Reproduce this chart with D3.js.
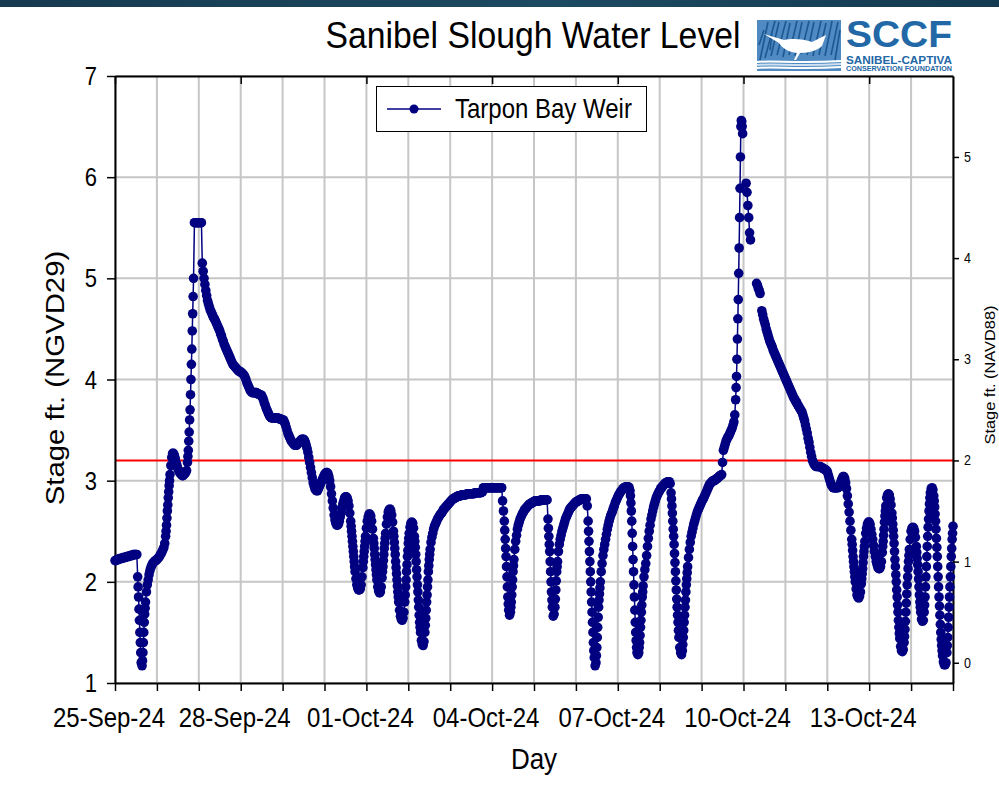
<!DOCTYPE html>
<html><head><meta charset="utf-8">
<script src="https://cdn.jsdelivr.net/npm/d3@7"></script>
<style>body{margin:0;background:#fff}svg{display:block}text{font-family:"Liberation Sans",Arial,sans-serif}</style>
</head><body>
<svg id="chart" width="999" height="785"></svg>
<script>
// ---------------- DATA ----------------
const title = "Sanibel Slough Water Level";
const seriesName = "Tarpon Bay Weir";
const yLabelLeft = "Stage ft. (NGVD29)";
const yLabelRight = "Stage ft. (NAVD88)";
const xLabel = "Day";
const startDay = "2024-09-25";
const endDay = "2024-10-15";
const xLabelDates = ["2024-09-25","2024-09-28","2024-10-01","2024-10-04","2024-10-07","2024-10-10","2024-10-13"];
const yTicksLeft = [1,2,3,4,5,6,7];
const yTicksRight = [0,1,2,3,4,5];
const datumOffset = 1.2;      // NGVD29 - NAVD88
const threshold = 3.2;        // red reference line (NGVD29)

// half-hourly stage readings (ft NGVD29) from 25-Sep-24 00:00; null = missing reading
const stageReadings = [
 2.21,2.21,2.22,2.22,2.22,2.23,2.23,2.23,2.23,2.24,2.24,2.24,2.24,2.25,2.25,2.25,2.25,2.26,2.26,2.26,2.26,2.27,2.27,2.27,2.27,2.27,2.05,1.85,1.62,1.4,1.2,1.17,1.3,1.5,1.68,1.8,1.9,1.97,2.02,2.07,2.11,2.14,2.16,2.18,2.19,2.2,2.21,2.21,
 2.22,2.23,2.24,2.25,2.27,2.28,2.3,2.32,2.34,2.38,2.45,2.56,2.7,2.83,2.95,3.06,3.15,3.23,3.27,3.27,3.25,3.22,3.18,3.15,3.12,3.1,3.08,3.07,3.06,3.05,3.05,3.06,3.07,3.08,3.1,3.18,3.3,3.48,3.7,4.0,4.3,4.65,5.0,5.55,5.55,5.55,5.55,5.55,
 5.55,5.55,5.55,5.55,5.15,5.07,5.0,4.94,4.88,4.83,4.78,4.75,4.72,4.69,4.67,4.65,4.63,4.61,4.6,4.58,4.56,4.54,4.52,4.5,4.48,4.45,4.43,4.4,4.38,4.35,4.33,4.31,4.29,4.27,4.25,4.23,4.21,4.19,4.17,4.15,4.14,4.13,4.12,4.11,4.1,4.09,4.08,4.08,
 4.07,4.07,4.06,4.05,4.04,4.02,4.0,3.97,3.95,3.93,3.91,3.89,3.88,3.87,3.87,3.87,3.87,3.87,3.87,3.86,3.86,3.85,3.85,3.85,3.84,3.82,3.8,3.77,3.75,3.72,3.7,3.68,3.66,3.64,3.63,3.62,3.62,3.62,3.62,3.62,3.62,3.62,3.62,3.62,3.61,3.61,3.61,3.6,3.6,
 3.6,3.58,3.56,3.53,3.5,3.47,3.45,3.43,3.41,3.39,3.38,3.37,3.36,3.35,3.35,3.35,3.36,3.37,3.38,3.39,3.4,3.41,3.41,3.41,3.4,3.38,3.35,3.32,3.28,3.23,3.18,3.13,3.08,3.03,2.98,2.95,2.92,2.91,2.9,2.9,2.92,2.94,2.96,2.98,3.0,3.02,3.04,3.06,
 3.07,3.08,3.08,3.07,3.04,3.0,2.94,2.87,2.8,2.73,2.66,2.61,2.58,2.56,2.56,2.57,2.6,2.64,2.68,2.73,2.77,2.8,2.83,2.84,2.84,2.83,2.8,2.75,2.68,2.6,2.5,2.4,2.3,2.2,2.1,2.03,1.97,1.94,1.92,1.92,1.93,1.97,2.05,2.14,2.25,2.35,2.45,2.53,
 2.6,2.64,2.67,2.67,2.65,2.6,2.52,2.43,2.33,2.22,2.12,2.02,1.95,1.91,1.89,1.9,1.95,2.04,2.15,2.27,2.38,2.48,2.57,2.64,2.69,2.71,2.72,2.7,2.66,2.59,2.5,2.39,2.27,2.14,2.02,1.9,1.8,1.72,1.66,1.63,1.62,1.64,1.7,1.8,1.95,2.1,2.25,2.38,
 2.48,2.54,2.58,2.59,2.58,2.53,2.45,2.34,2.2,2.05,1.9,1.75,1.6,1.5,1.42,1.38,1.37,1.41,1.5,1.64,1.8,1.95,2.1,2.22,2.32,2.39,2.44,2.48,2.52,2.55,2.57,2.59,2.61,2.63,2.64,2.66,2.67,2.68,2.69,2.71,2.72,2.73,2.74,2.75,2.76,2.77,2.78,2.79,
 2.8,2.81,2.82,2.82,2.83,2.83,2.84,2.84,2.85,2.85,2.85,2.85,2.86,2.86,2.86,2.86,2.86,2.86,2.87,2.87,2.87,2.87,2.87,2.87,2.87,2.87,2.87,2.88,2.88,2.88,2.88,2.88,2.88,2.88,2.88,2.89,2.89,2.93,2.93,2.93,2.93,2.93,2.93,2.93,2.93,2.93,2.93,2.93,2.93,
 2.93,2.93,2.93,2.93,2.93,2.93,2.93,2.93,2.93,2.93,2.8,2.7,2.6,2.42,2.25,2.05,1.85,1.72,1.67,1.7,1.8,1.95,2.1,2.22,2.32,2.4,2.46,2.52,2.56,2.59,2.62,2.64,2.66,2.68,2.69,2.71,2.72,2.73,2.74,2.75,2.76,2.77,2.77,2.78,2.78,2.79,2.79,2.8,
 2.8,2.8,2.8,2.8,2.8,2.8,2.81,2.81,2.81,2.81,2.81,2.81,2.81,2.81,2.62,2.45,2.3,2.1,1.9,1.75,1.66,1.68,1.75,1.92,2.1,2.2,2.3,2.37,2.42,2.46,2.5,2.53,2.56,2.59,2.62,2.64,2.66,2.68,2.7,2.72,2.73,2.74,2.75,2.76,2.77,2.78,2.79,2.79,
 2.8,2.8,2.81,2.81,2.82,2.82,2.82,2.82,2.82,2.82,2.82,2.75,2.6,2.4,2.2,2.0,1.8,1.6,1.4,1.25,1.17,1.2,1.35,1.55,1.75,1.88,2.0,2.1,2.18,2.26,2.32,2.37,2.42,2.47,2.52,2.56,2.6,2.63,2.66,2.68,2.7,2.73,2.75,2.78,2.8,2.82,2.84,2.86,
 2.87,2.89,2.9,2.91,2.92,2.93,2.93,2.94,2.94,2.94,2.94,2.93,2.9,2.78,2.6,2.35,2.1,1.85,1.6,1.42,1.3,1.28,1.3,1.4,1.55,1.7,1.85,1.96,2.05,2.12,2.18,2.26,2.35,2.43,2.5,2.56,2.62,2.66,2.7,2.74,2.77,2.8,2.83,2.85,2.87,2.89,2.9,2.92,
 2.93,2.94,2.95,2.96,2.97,2.98,2.98,2.99,2.99,2.99,2.97,2.88,2.75,2.6,2.45,2.28,2.1,1.92,1.75,1.6,1.45,1.35,1.3,1.28,1.32,1.45,1.6,1.75,1.9,2.03,2.15,2.24,2.32,2.39,2.45,2.49,2.53,2.57,2.6,2.63,2.66,2.69,2.71,2.73,2.75,2.77,2.79,2.81,
 2.82,2.84,2.86,2.88,2.9,2.92,2.94,2.96,2.97,2.98,2.99,3.0,3.0,3.0,3.01,3.02,3.02,3.03,3.04,3.05,3.05,3.06,3.18,3.3,3.33,3.36,3.39,3.41,3.43,3.44,3.46,3.48,3.5,3.52,3.55,3.58,3.65,3.8,4.03,4.4,4.79,5.3,5.89,6.5,6.55,6.43,null,null,null,
 5.94,5.85,5.72,5.6,5.45,5.38,null,null,null,null,null,null,4.95,4.93,4.9,4.88,4.85,null,4.68,4.64,4.6,4.57,4.54,4.5,4.47,4.44,4.41,4.38,4.36,4.34,4.32,4.29,4.27,4.25,4.23,4.21,4.19,4.17,4.15,4.13,4.11,4.09,4.07,4.05,4.03,4.01,3.99,3.97,
 3.95,3.93,3.91,3.89,3.87,3.85,3.83,3.81,3.8,3.78,3.77,3.75,3.74,3.72,3.71,3.69,3.68,3.65,3.62,3.59,3.55,3.51,3.47,3.42,3.38,3.33,3.28,3.24,3.2,3.18,3.16,3.15,3.14,3.14,3.14,3.14,3.14,3.14,3.13,3.13,3.12,3.12,3.11,3.11,3.1,3.09,3.06,3.03,3.0,
 2.97,2.95,2.94,2.93,2.93,2.93,2.93,2.93,2.93,2.94,2.95,2.97,3.0,3.02,3.04,3.04,3.02,2.98,2.92,2.85,2.77,2.69,2.6,2.51,2.42,2.31,2.2,2.1,2.0,1.93,1.87,1.85,1.84,1.86,1.9,1.98,2.08,2.19,2.3,2.4,2.48,2.53,2.57,2.59,2.59,2.57,2.52,2.47,
 2.42,2.36,2.3,2.25,2.2,2.17,2.14,2.13,2.13,2.15,2.2,2.29,2.4,2.52,2.65,2.75,2.83,2.86,2.87,2.86,2.82,2.76,2.68,2.57,2.45,2.3,2.15,2.0,1.85,1.7,1.55,1.44,1.36,1.32,1.31,1.33,1.4,1.53,1.7,1.88,2.05,2.2,2.32,2.42,2.5,2.53,2.54,2.53,
 2.5,2.44,2.35,2.23,2.1,1.95,1.8,1.7,1.63,1.61,1.62,1.7,1.85,2.05,2.25,2.45,2.62,2.77,2.88,2.92,2.93,2.91,2.85,2.74,2.6,2.43,2.25,2.05,1.85,1.67,1.5,1.37,1.27,1.21,1.18,1.18,1.2,1.3,1.45,1.65,1.85,2.05,2.25,2.42,2.55
];
// extra quarter-hour readings where the stage changes quickly: [hours since start, stage]
const quarterHourReadings = [
 [13.25,1.95],[13.75,1.73],[14.25,1.5],[14.75,1.3],[15.75,1.22],[16.25,1.4],[16.75,1.6],[17.25,1.74],
 [29.25,2.5],[29.75,2.63],[30.25,2.76],[30.75,2.89],[31.25,3.0],[41.75,3.24],[42.25,3.39],
 [42.75,3.6],[43.25,3.85],[43.75,4.15],[44.25,4.48],[44.75,4.82],
 [135.25,2.55],[135.75,2.45],[136.25,2.35],[136.75,2.25],[137.25,2.15],[142.25,2.2],[142.75,2.3],[143.25,2.4],
 [148.25,2.38],[148.75,2.27],[149.25,2.17],[149.75,2.07],[153.25,2.1],[153.75,2.21],[154.25,2.33],[154.75,2.43],
 [159.75,2.45],[160.25,2.33],[160.75,2.2],[161.25,2.08],[161.75,1.96],[162.25,1.85],
 [166.25,1.87],[166.75,2.02],[167.25,2.17],[167.75,2.31],[168.25,2.43],
 [171.75,2.4],[172.25,2.27],[172.75,2.12],[173.25,1.97],[173.75,1.82],[174.25,1.67],[174.75,1.55],
 [177.75,1.57],[178.25,1.72],[178.75,1.87],[179.25,2.02],[179.75,2.16],[180.25,2.27],
 [223.25,2.51],[223.75,2.33],[224.25,2.15],[224.75,1.95],[225.25,1.78],[226.75,1.75],[227.25,1.87],[227.75,2.02],[228.25,2.16],
 [248.25,2.53],[248.75,2.37],[249.25,2.2],[249.75,2.0],[250.25,1.82],[252.25,1.83],[252.75,2.01],[253.25,2.15],
 [271.25,2.5],[271.75,2.3],[272.25,2.1],[272.75,1.9],[273.25,1.7],[273.75,1.5],[274.25,1.32],
 [275.75,1.27],[276.25,1.45],[276.75,1.65],[277.25,1.82],[277.75,1.94],
 [295.25,2.85],[295.75,2.7],[296.25,2.48],[296.75,2.22],[297.25,1.97],[297.75,1.72],[298.25,1.5],[298.75,1.35],
 [300.25,1.35],[300.75,1.47],[301.25,1.62],[301.75,1.77],[302.25,1.9],
 [318.75,2.82],[319.25,2.68],[319.75,2.52],[320.25,2.37],[320.75,2.19],[321.25,2.01],[321.75,1.83],[322.25,1.67],[322.75,1.52],
 [325.25,1.38],[325.75,1.52],[326.25,1.67],[326.75,1.82],[327.25,1.97],[327.75,2.09],
 [355.75,3.92],[356.25,4.2],[356.75,4.6],[357.25,5.05],[357.75,5.6],[358.25,6.2],[358.75,6.56],[359.25,6.5],
 [422.25,2.37],[422.75,2.25],[423.25,2.15],[423.75,2.05],[427.75,2.03],[428.25,2.13],[428.75,2.25],[429.25,2.35],
 [439.75,2.35],[440.25,2.46],[440.75,2.59],[441.25,2.7],
 [445.25,2.63],[445.75,2.51],[446.25,2.38],[446.75,2.22],[447.25,2.07],[447.75,1.92],[448.25,1.77],[448.75,1.62],[449.25,1.49],
 [452.25,1.46],[452.75,1.61],[453.25,1.79],[453.75,1.97],[454.25,2.13],[454.75,2.26],
 [459.25,2.29],[459.75,2.17],[460.25,2.03],[460.75,1.87],[461.25,1.75],
 [463.75,1.77],[464.25,1.95],[464.75,2.15],[465.25,2.35],[465.75,2.54],[466.25,2.7],[466.75,2.83],
 [469.25,2.8],[469.75,2.67],[470.25,2.52],[470.75,2.34],[471.25,2.15],[471.75,1.95],[472.25,1.76],[472.75,1.58],[473.25,1.43],[473.75,1.32],
 [476.75,1.37],[477.25,1.55],[477.75,1.75],[478.25,1.95],[478.75,2.15],[479.25,2.33],[479.75,2.48]
];

// ---------------- CHART ----------------
const W = 999, H = 785;
const SY = 1.13; // vertical stretch of the original picture's lettering
const svg = d3.select("#chart");
const parse = d3.utcParse("%Y-%m-%d");
const t0 = parse(startDay), t1 = parse(endDay);
const HOUR = 3600e3;

const readings = stageReadings.map((v,i)=>({t:new Date(+t0 + i*0.5*HOUR), v}))
  .concat(quarterHourReadings.map(([h,v])=>({t:new Date(+t0 + h*HOUR), v})))
  .sort((a,b)=>a.t-b.t);

const x = d3.scaleUtc().domain([t0,t1]).range([115,953]);
const y = d3.scaleLinear().domain([1,7]).range([683,76]);
const yR = d3.scaleLinear().domain([1-datumOffset,7-datumOffset]).range([683,76]);

function addText(parent, str, tx, ty, size, o={}) {
  const t = parent.append("text").text(str)
    .attr("transform", `translate(${tx},${ty}) scale(1,${SY})${o.rotate?` rotate(${o.rotate})`:""}`)
    .attr("font-size", size).attr("text-anchor", o.anchor||"start")
    .attr("font-weight", o.weight||"normal").attr("fill", o.fill||"#000");
  if (o.len) t.attr("textLength", o.len).attr("lengthAdjust","spacingAndGlyphs");
  return t;
}

// banner
const defs = svg.append("defs");
const bg = defs.append("linearGradient").attr("id","ban");
bg.append("stop").attr("offset","0%").attr("stop-color","#163a50");
bg.append("stop").attr("offset","55%").attr("stop-color","#1c4a62");
bg.append("stop").attr("offset","100%").attr("stop-color","#133a51");
svg.append("rect").attr("x",0).attr("y",0).attr("width",W).attr("height",7).attr("fill","url(#ban)");

// title
addText(svg, title, 533, 48, 33, {anchor:"middle", len:415});

// logo
const logo = svg.append("g");
logo.append("rect").attr("x",757).attr("y",20).attr("width",84).attr("height",51).attr("fill","#4f8bc2");
const grass = [[760,60,768,22],[765,58,775,21],[771,56,779,22],[777,55,786,21],[783,57,790,23],[789,55,797,21],[795,56,802,22],[801,54,809,21],[807,55,814,22],[813,56,821,21],[819,55,826,23],[825,56,832,21],[831,55,838,22],[835,60,840,30],[759,45,764,30],[770,50,772,35]];
grass.forEach(g=>logo.append("line").attr("x1",g[0]).attr("y1",g[1]).attr("x2",g[2]).attr("y2",g[3]).attr("stroke","#1d5792").attr("stroke-width",1.6));
logo.append("path").attr("d","M764,34 L784,40 C792,38 804,39 812,42 L826,35 L822,46 C818,50 810,53 800,53 L796,60 L794,60 L797,53 C788,52 782,48 779,43 Z").attr("fill","#fff");
[[62,"#fff"],[65,"#cfe0f0"],[68,"#fff"]].forEach(w=>logo.append("path").attr("d",`M757,${w[0]} C775,${w[0]-2} 795,${w[0]+2} 841,${w[0]-1}`).attr("stroke",w[1]).attr("stroke-width",2).attr("fill","none"));
addText(svg, "SCCF", 846, 47, 33.5, {weight:"bold", fill:"#2267a6", len:106});
const sub = logo.append("text").attr("font-weight","bold").attr("fill","#2267a6")
  .attr("transform",`translate(846,0) scale(1,${SY})`);
sub.append("tspan").attr("x",0).attr("y",64/SY).attr("font-size",9.5).attr("textLength",106).attr("lengthAdjust","spacingAndGlyphs").text("SANIBEL-CAPTIVA");
sub.append("tspan").attr("x",0).attr("y",71/SY).attr("font-size",6.2).attr("textLength",106).attr("lengthAdjust","spacingAndGlyphs").text("CONSERVATION FOUNDATION");

// grid
const days = d3.utcDay.range(t0, d3.utcDay.offset(t1,1));
const grid = svg.append("g").attr("stroke","#c6c6c6").attr("stroke-width",2);
days.forEach(d=>grid.append("line").attr("x1",x(d)).attr("x2",x(d)).attr("y1",y(7)).attr("y2",y(1)));
yTicksLeft.forEach(v=>grid.append("line").attr("x1",x(t0)).attr("x2",x(t1)).attr("y1",y(v)).attr("y2",y(v)));

// threshold
svg.append("line").attr("x1",x(t0)).attr("x2",x(t1)).attr("y1",y(threshold)).attr("y2",y(threshold))
  .attr("stroke","#ff0000").attr("stroke-width",2);

// axes
function styleAxis(g){ g.selectAll("path,line").attr("stroke","#000"); g.select(".domain").attr("stroke-width",2); g.selectAll(".tick line").attr("stroke-width",1.5); }
svg.append("g").attr("transform",`translate(0,${y(1)})`)
  .call(d3.axisBottom(x).tickValues(days).tickSize(8).tickSizeOuter(0).tickFormat("")).call(styleAxis);
svg.append("g").attr("transform",`translate(0,${y(7)})`)
  .call(d3.axisTop(x).tickValues(xLabelDates.map(parse)).tickSize(-8).tickSizeOuter(0).tickFormat("")).call(styleAxis);
svg.append("g").attr("transform",`translate(${x(t0)},0)`)
  .call(d3.axisLeft(y).tickValues(yTicksLeft).tickSize(8).tickSizeOuter(0).tickFormat("")).call(styleAxis);
svg.append("g").attr("transform",`translate(${x(t1)},0)`)
  .call(d3.axisRight(yR).tickValues(yTicksRight).tickSize(6).tickSizeOuter(0).tickFormat("")).call(styleAxis);

// tick labels
const fmt = d3.utcFormat("%d-%b-%y");
xLabelDates.map(parse).forEach(d=>addText(svg, fmt(d), x(d)-6, 727, 24, {anchor:"middle"}));
yTicksLeft.forEach(v=>addText(svg, String(v), 97, y(v)+9, 22, {anchor:"end"}));
yTicksRight.forEach(v=>addText(svg, String(v), 964, yR(v)+5, 12.5, {anchor:"start"}));

// axis titles
addText(svg, xLabel, 534, 769, 26, {anchor:"middle"});
addText(svg, yLabelLeft, 64, 378, 26, {anchor:"middle", rotate:-90});
addText(svg, yLabelRight, 995, 375, 14.5, {anchor:"middle", rotate:-90});

// series
const navy = "#000080";
const R = 4.8;
const line = d3.line().defined(d=>d.v!=null).x(d=>x(d.t)).y(d=>y(d.v));
svg.append("path").datum(readings).attr("d",line).attr("fill","none").attr("stroke",navy).attr("stroke-width",1.5);
svg.append("g").selectAll("circle").data(readings.filter(d=>d.v!=null)).join("circle")
  .attr("cx",d=>x(d.t)).attr("cy",d=>y(d.v)).attr("r",R).attr("fill",navy);

// legend
const lg = svg.append("g");
lg.append("rect").attr("x",376.5).attr("y",86.5).attr("width",270).attr("height",45).attr("fill","#fff").attr("stroke","#000").attr("stroke-width",1);
lg.append("line").attr("x1",387).attr("x2",441).attr("y1",109).attr("y2",109).attr("stroke",navy).attr("stroke-width",1.3);
lg.append("circle").attr("cx",414).attr("cy",109).attr("r",4.5).attr("fill",navy);
addText(lg, seriesName, 455, 118, 24, {anchor:"start"});
</script>
</body></html>
